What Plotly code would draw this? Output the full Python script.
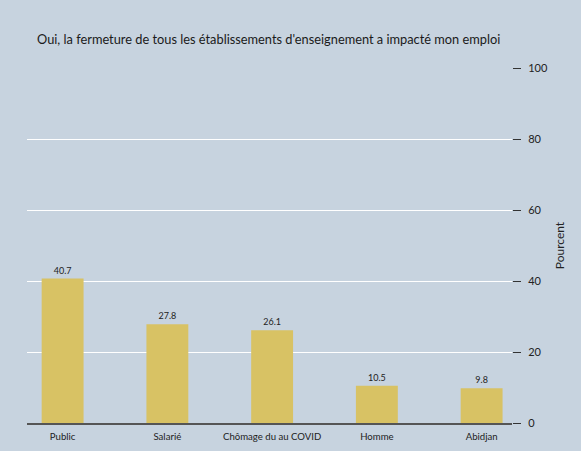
import plotly.graph_objects as go

categories = ["Public", "Salarié", "Chômage du au COVID", "Homme", "Abidjan"]
values = [40.7, 27.8, 26.1, 10.5, 9.8]
y_ticks = [0, 20, 40, 60, 80, 100]
grid_ticks = [20, 40, 60, 80]

title = "Oui, la fermeture de tous les établissements d'enseignement a impacté mon emploi"
bg = "#c7d3df"
bar_color = "#d8c264"
font = "Lato, 'Open Sans', sans-serif"

fig = go.Figure()
fig.add_trace(go.Bar(
    x=list(range(len(categories))), y=values,
    marker=dict(color=bar_color, line=dict(width=0)),
    width=0.4,
    text=[f"{v:.1f}" for v in values],
    textposition="outside",
    textfont=dict(size=9, color="#222"),
    cliponaxis=False,
))

fig.update_layout(
    width=581, height=451,
    paper_bgcolor=bg, plot_bgcolor=bg,
    margin=dict(l=27, r=69, t=68, b=28),
    font=dict(family=font, color="#222"),
    showlegend=False,
    title=dict(text=title, x=37 / 581, xref="container", xanchor="left",
               y=1 - 40 / 451, yref="container", yanchor="middle",
               font=dict(size=12.8, color="#1a1a1a")),
    xaxis=dict(
        range=[-0.34, 4.29],
        tickvals=list(range(len(categories))), ticktext=categories,
        tickfont=dict(size=9.6), ticks="", showgrid=False, zeroline=False,
        showline=True, linecolor="#555", linewidth=1.5,
        ticklabelstandoff=4, automargin=False,
    ),
    yaxis=dict(
        range=[0, 100], tickvals=grid_ticks, showticklabels=False,
        showgrid=True, gridcolor="white", gridwidth=1.2,
        zeroline=False, ticks="", automargin=False,
    ),
    yaxis2=dict(
        overlaying="y", side="right", range=[0, 100],
        tickvals=y_ticks, ticks="outside", ticklen=8, tickcolor="#333",
        tickfont=dict(size=11), showgrid=False, zeroline=False,
        ticklabelstandoff=5, automargin=False,
        title=dict(text="Pourcent", font=dict(size=12), standoff=8),
    ),
)
fig.add_trace(go.Scatter(x=[None], y=[None], yaxis="y2", showlegend=False))

fig.write_html("out.html", config={"displayModeBar": False},
               post_script="document.body.style.margin='0';")
